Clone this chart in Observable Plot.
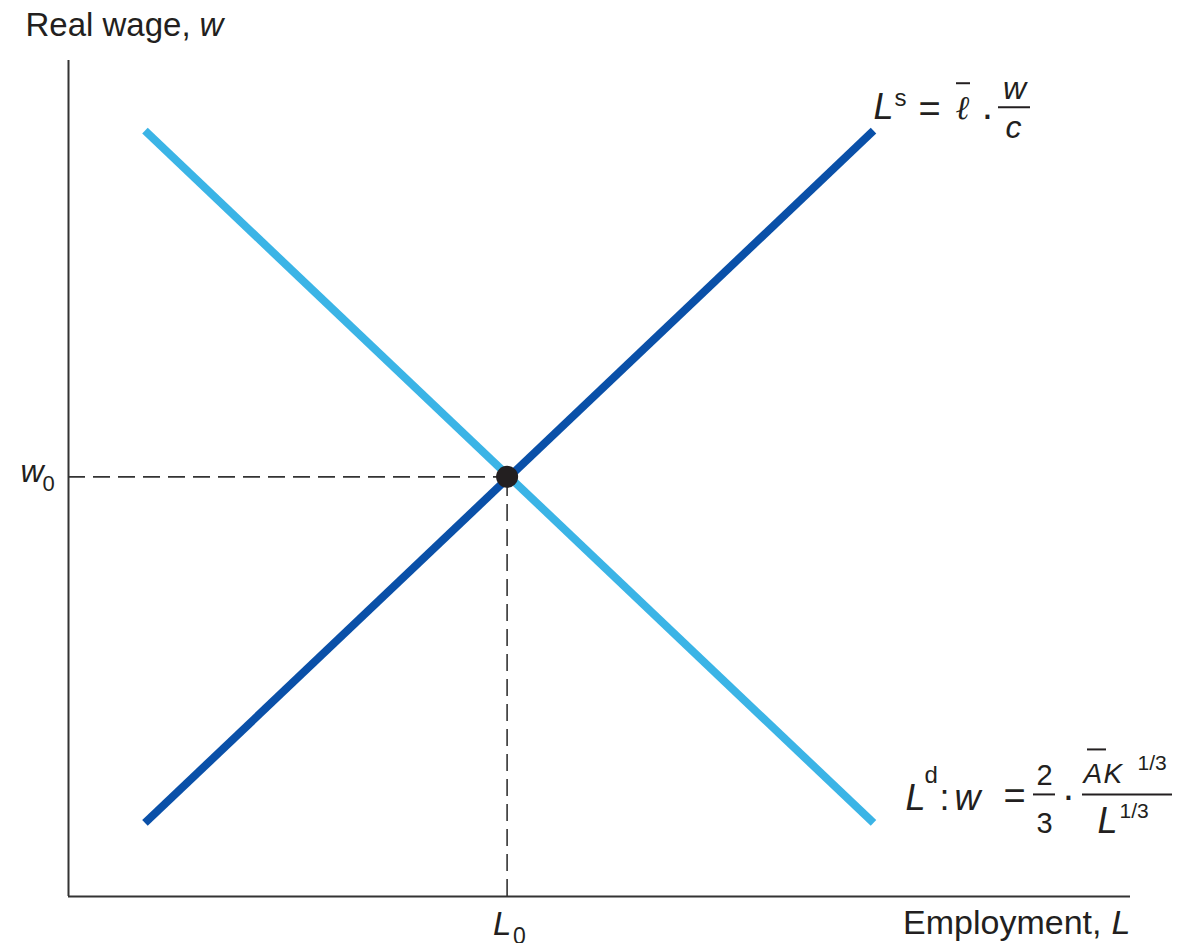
<!DOCTYPE html>
<html>
<head>
<meta charset="utf-8">
<script src="https://cdn.jsdelivr.net/npm/d3@7"></script>
<script src="https://cdn.jsdelivr.net/npm/@observablehq/plot@0.6"></script>
<style>
  html, body { margin: 0; padding: 0; background: #fff; }
  #chart svg { display: block; }
</style>
</head>
<body>
<div id="chart"></div>
<script>
// ---- data (arbitrary units: employment L, real wage w) ----
const supplyL = [7.2, 75.8];
const supplyW = [8.8, 91.6];
const demandL = [7.2, 75.8];
const demandW = [91.6, 8.8];
const eqL = 41.3;   // L0
const eqW = 50.2;   // w0
const axisMax = 100;

const supply = supplyL.map((L, i) => ({L, w: supplyW[i]}));
const demand = demandL.map((L, i) => ({L, w: demandW[i]}));
const eq = [{L: eqL, w: eqW}];
const sEnd = [supply[1]];
const dEnd = [demand[1]];

const FONT = "Liberation Sans, Arial, Helvetica, sans-serif";
const INK = "#231f20";

function txt(data, text, dx, dy, o = {}) {
  return Plot.text(data, {
    x: "L", y: "w", text: () => text, dx, dy,
    lineAnchor: "bottom", textAnchor: o.anchor || "start",
    fontSize: o.size || 32, fontStyle: o.italic ? "italic" : "normal",
    fontFamily: o.family || FONT, fill: INK
  });
}

const topLeft = [{L: 0, w: axisMax}];
const rightEnd = [{L: axisMax, w: 0}];
const wTick = [{L: 0, w: eqW}];
const lTick = [{L: eqL, w: 0}];

const plot = Plot.plot({
  width: 1195,
  height: 943,
  marginLeft: 68,
  marginRight: 65,
  marginTop: 60,
  marginBottom: 47,
  x: {domain: [0, axisMax], axis: null},
  y: {domain: [0, axisMax], axis: null},
  style: {fontFamily: FONT, background: "#fff"},
  marks: [
    // axes
    Plot.ruleX([0], {y1: 0, y2: axisMax, stroke: "#333", strokeWidth: 2}),
    Plot.ruleY([0], {x1: 0, x2: axisMax, stroke: "#333", strokeWidth: 2}),
    // dashed guides
    Plot.ruleY(eq, {y: "w", x1: 0, x2: "L", stroke: "#333", strokeWidth: 1.6, strokeDasharray: "17,8"}),
    Plot.ruleX(eq, {x: "L", y1: 0, y2: "w", stroke: "#333", strokeWidth: 1.6, strokeDasharray: "17,8"}),
    // curves
    Plot.line(supply, {x: "L", y: "w", stroke: "#0a50a8", strokeWidth: 8, strokeLinecap: "butt"}),
    Plot.line(demand, {x: "L", y: "w", stroke: "#3bb4e6", strokeWidth: 8, strokeLinecap: "butt"}),
    Plot.dot(eq, {x: "L", y: "w", r: 11, fill: INK, stroke: "none"}),

    // axis titles
    txt(topLeft, "Real wage,", -43, -25, {size: 33}),
    txt(topLeft, "w", 131, -25, {size: 33, italic: true}),
    txt(rightEnd, "Employment,", -29, 37, {size: 34, anchor: "end"}),
    txt(rightEnd, "L", 0, 37, {size: 34, italic: true, anchor: "end"}),

    // tick labels
    txt(wTick, "w", -48, 5, {size: 32, italic: true}),
    txt(wTick, "0", -26, 14, {size: 22}),
    txt(lTick, "L", -14, 38, {size: 33, italic: true}),
    txt(lTick, "0", 6, 47, {size: 23}),

    // supply formula: L^s = ℓ̄ · w/c
    txt(sEnd, "L", 0, -12, {size: 36, italic: true}),
    txt(sEnd, "s", 21, -25, {size: 24}),
    txt(sEnd, "=", 56, -9, {size: 38, anchor: "middle"}),
    txt(sEnd, "ℓ", 89, -12, {size: 33, italic: true, anchor: "middle", family: "DejaVu Serif"}),
    txt(sEnd, "·", 114, -3, {size: 40, anchor: "middle"}),
    txt(sEnd, "w", 141, -32, {size: 32, italic: true, anchor: "middle"}),
    txt(sEnd, "c", 140, 7, {size: 32, italic: true, anchor: "middle"}),

    // demand formula: L^d: w = 2/3 · ĀK^{1/3} / L^{1/3}
    txt(dEnd, "L", 32, -13, {size: 36, italic: true}),
    txt(dEnd, "d", 51, -40, {size: 24}),
    txt(dEnd, ":", 66, -13, {size: 36}),
    txt(dEnd, "w", 81, -13, {size: 36, italic: true}),
    txt(dEnd, "=", 141, -14, {size: 38, anchor: "middle"}),
    txt(dEnd, "2", 171, -38, {size: 29, anchor: "middle"}),
    txt(dEnd, "3", 171, 10, {size: 29, anchor: "middle"}),
    txt(dEnd, "·", 195, -14, {size: 40, anchor: "middle"}),
    txt(dEnd, "A", 210, -40, {size: 28, italic: true}),
    txt(dEnd, "K", 230, -40, {size: 28, italic: true}),
    txt(dEnd, "1/3", 264, -53, {size: 21}),
    txt(dEnd, "L", 224, 10, {size: 36, italic: true}),
    txt(dEnd, "1/3", 246, -5, {size: 21})
  ]
});

document.getElementById("chart").appendChild(plot);

// fraction bars and overbars, placed from the chart's own scales
const sx = plot.scale("x"), sy = plot.scale("y");
const svg = d3.select(plot);
function bar(anchor, x1, x2, dy, w = 2) {
  const ax = sx.apply(anchor.L), ay = sy.apply(anchor.w);
  svg.append("line")
    .attr("x1", ax + x1).attr("x2", ax + x2)
    .attr("y1", ay + dy).attr("y2", ay + dy)
    .attr("stroke", INK).attr("stroke-width", w);
}
bar(sEnd[0], 83, 97, -47, 2);     // bar over ℓ
bar(sEnd[0], 125, 157, -23, 2);   // w / c
bar(dEnd[0], 160, 182, -28, 2);   // 2 / 3
bar(dEnd[0], 209, 299, -28, 2);   // main fraction
bar(dEnd[0], 214, 233, -73, 2);   // bar over A
</script>
</body>
</html>
